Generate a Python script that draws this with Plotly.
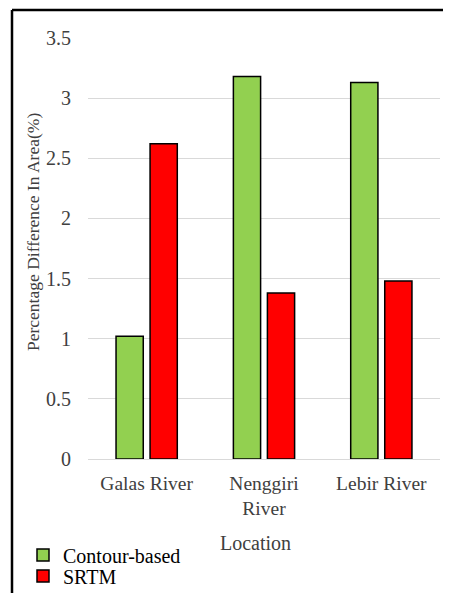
import plotly.graph_objects as go

categories = ["Galas River", "Nenggiri<br>River", "Lebir River"]
contour_vals = [1.02, 3.18, 3.13]
srtm_vals = [2.62, 1.38, 1.48]
y_ticks = [0, 0.5, 1, 1.5, 2, 2.5, 3, 3.5]
y_tick_text = ["0", "0.5", "1", "1.5", "2", "2.5", "3", "3.5"]

OFF = 8  # browser body margin
W, H = 451 - OFF, 593 - OFF
L, R, T, B = 88 - OFF, 11, 38 - OFF, 134
pw = W - L - R
ph = H - T - B


def px(X):  # page x -> paper x
    return (X - OFF - L) / pw


def py(Y):  # page y -> paper y
    return 1 - (Y - OFF - T) / ph


def cx(X):  # page x -> container x
    return (X - OFF) / W


def cy(Y):  # page y -> container y
    return 1 - (Y - OFF) / H


font = "Liberation Serif, Times New Roman, serif"
txt = "#404040"

fig = go.Figure()
fig.add_bar(x=categories, y=contour_vals, name="Contour-based", legend="legend",
            marker=dict(color="#92d050", line=dict(color="#000000", width=1.5)))
fig.add_bar(x=categories, y=srtm_vals, name="SRTM", legend="legend2",
            marker=dict(color="#ff0000", line=dict(color="#000000", width=1.5)))

leg_common = dict(xref="container", yref="container", xanchor="left", yanchor="middle",
                  orientation="v", font=dict(size=20, color="#000"),
                  bgcolor="rgba(0,0,0,0)", itemwidth=30)

fig.update_layout(
    width=W, height=H,
    margin=dict(l=L, r=R, t=T, b=B, autoexpand=False),
    paper_bgcolor="white", plot_bgcolor="white",
    barmode="group", bargap=0.42, bargroupgap=0.2,
    font=dict(family=font, size=20, color=txt),
    showlegend=True,
    legend=dict(x=cx(23), y=cy(555), **leg_common),
    legend2=dict(x=cx(23), y=cy(576), **leg_common),
    xaxis=dict(showgrid=False, showline=False, ticks="", ticklabelstandoff=10,
               tickfont=dict(size=19.5, color=txt)),
    yaxis=dict(range=[0, 3.5], tickvals=y_ticks, ticktext=y_tick_text,
               showgrid=True, gridcolor="#d9d9d9", gridwidth=1,
               zeroline=True, zerolinecolor="#d9d9d9", zerolinewidth=1,
               showline=False, ticks="", ticklabelstandoff=16,
               tickfont=dict(size=20, color=txt)),
    shapes=[
        dict(type="line", xref="paper", yref="paper",
             x0=px(12), x1=px(12), y0=py(620), y1=py(10),
             line=dict(color="black", width=2.5)),
        dict(type="line", xref="paper", yref="paper",
             x0=px(12), x1=px(470), y0=py(10), y1=py(10),
             line=dict(color="black", width=2.5)),
    ],
    annotations=[
        dict(text="Percentage Difference In Area(%)", textangle=-90,
             xref="paper", yref="paper", x=px(33), y=py(232),
             xanchor="center", yanchor="middle", showarrow=False,
             font=dict(size=17.5, color=txt)),
        dict(text="Location", xref="paper", yref="paper", x=px(255), y=py(543),
             xanchor="center", yanchor="middle", showarrow=False,
             font=dict(size=20, color=txt)),
    ],
)

fig.write_html("out.html")
